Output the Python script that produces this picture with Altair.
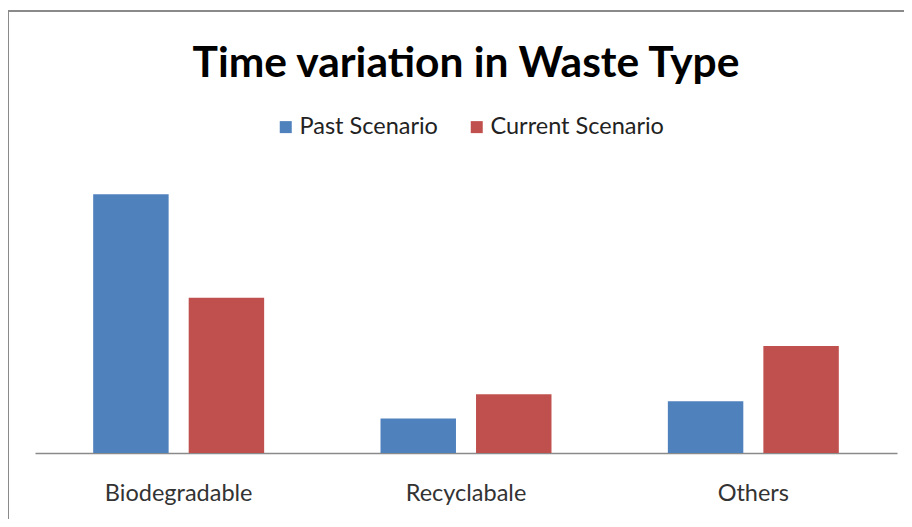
import altair as alt
import pandas as pd

categories = ["Biodegradable", "Recyclabale", "Others"]
series = ["Past Scenario", "Current Scenario"]
past = [75, 10, 15]
current = [45, 17, 31]
colors = ["#4F81BD", "#C0504D"]

rows = []
for c, p, q in zip(categories, past, current):
    rows.append({"category": c, "series": series[0], "value": p})
    rows.append({"category": c, "series": series[1], "value": q})
df = pd.DataFrame(rows)

W = 862
H = 276

bars = alt.Chart(df).mark_bar().encode(
    x=alt.X(
        "category:N",
        sort=categories,
        scale=alt.Scale(paddingInner=0.405, paddingOuter=0.2025),
        axis=alt.Axis(
            title=None, labelAngle=0, ticks=False, domainColor="#8a8a8a",
            domainWidth=1.5, labelFontSize=23.5, labelFont="Lato",
            labelColor="#333333", labelPadding=28, grid=False,
        ),
    ),
    xOffset=alt.XOffset("series:N", sort=series,
                        scale=alt.Scale(paddingInner=0.21, paddingOuter=0)),
    y=alt.Y("value:Q", scale=alt.Scale(domain=[0, 80]), axis=None),
    color=alt.Color(
        "series:N",
        sort=series,
        scale=alt.Scale(domain=series, range=colors),
        legend=alt.Legend(
            title=None, orient="none", legendX=239, legendY=-62,
            direction="horizontal", symbolType="square", symbolSize=144,
            symbolStrokeWidth=0, labelFontSize=23.5, labelFont="Lato",
            labelColor="#222222", columnPadding=27, labelOffset=2, padding=0,
            labelLimit=400,
        ),
    ),
)

frame_df = pd.DataFrame({"k": [0]})
top_line = alt.Chart(frame_df).mark_rule(color="#8a8a8a", strokeWidth=2).encode(
    x=alt.value(-27), x2=alt.value(869), y=alt.value(-166)
)
left_line = alt.Chart(frame_df).mark_rule(color="#8a8a8a", strokeWidth=2).encode(
    x=alt.value(-27), y=alt.value(-167), y2=alt.value(342)
)

chart = alt.layer(bars, top_line, left_line).properties(
    width=W,
    height=H,
    title=alt.TitleParams(
        text="Time variation in Waste Type", font="Lato", fontSize=42.5,
        fontWeight="bold", color="#000000", anchor="middle", offset=0, dy=76,
    ),
    autosize=alt.AutoSizeParams(type="none"),
    padding={"left": 27, "top": 169, "right": 7, "bottom": 66},
).configure_view(strokeWidth=0)

chart.save("out.html", embed_options={"renderer": "svg", "actions": False})
